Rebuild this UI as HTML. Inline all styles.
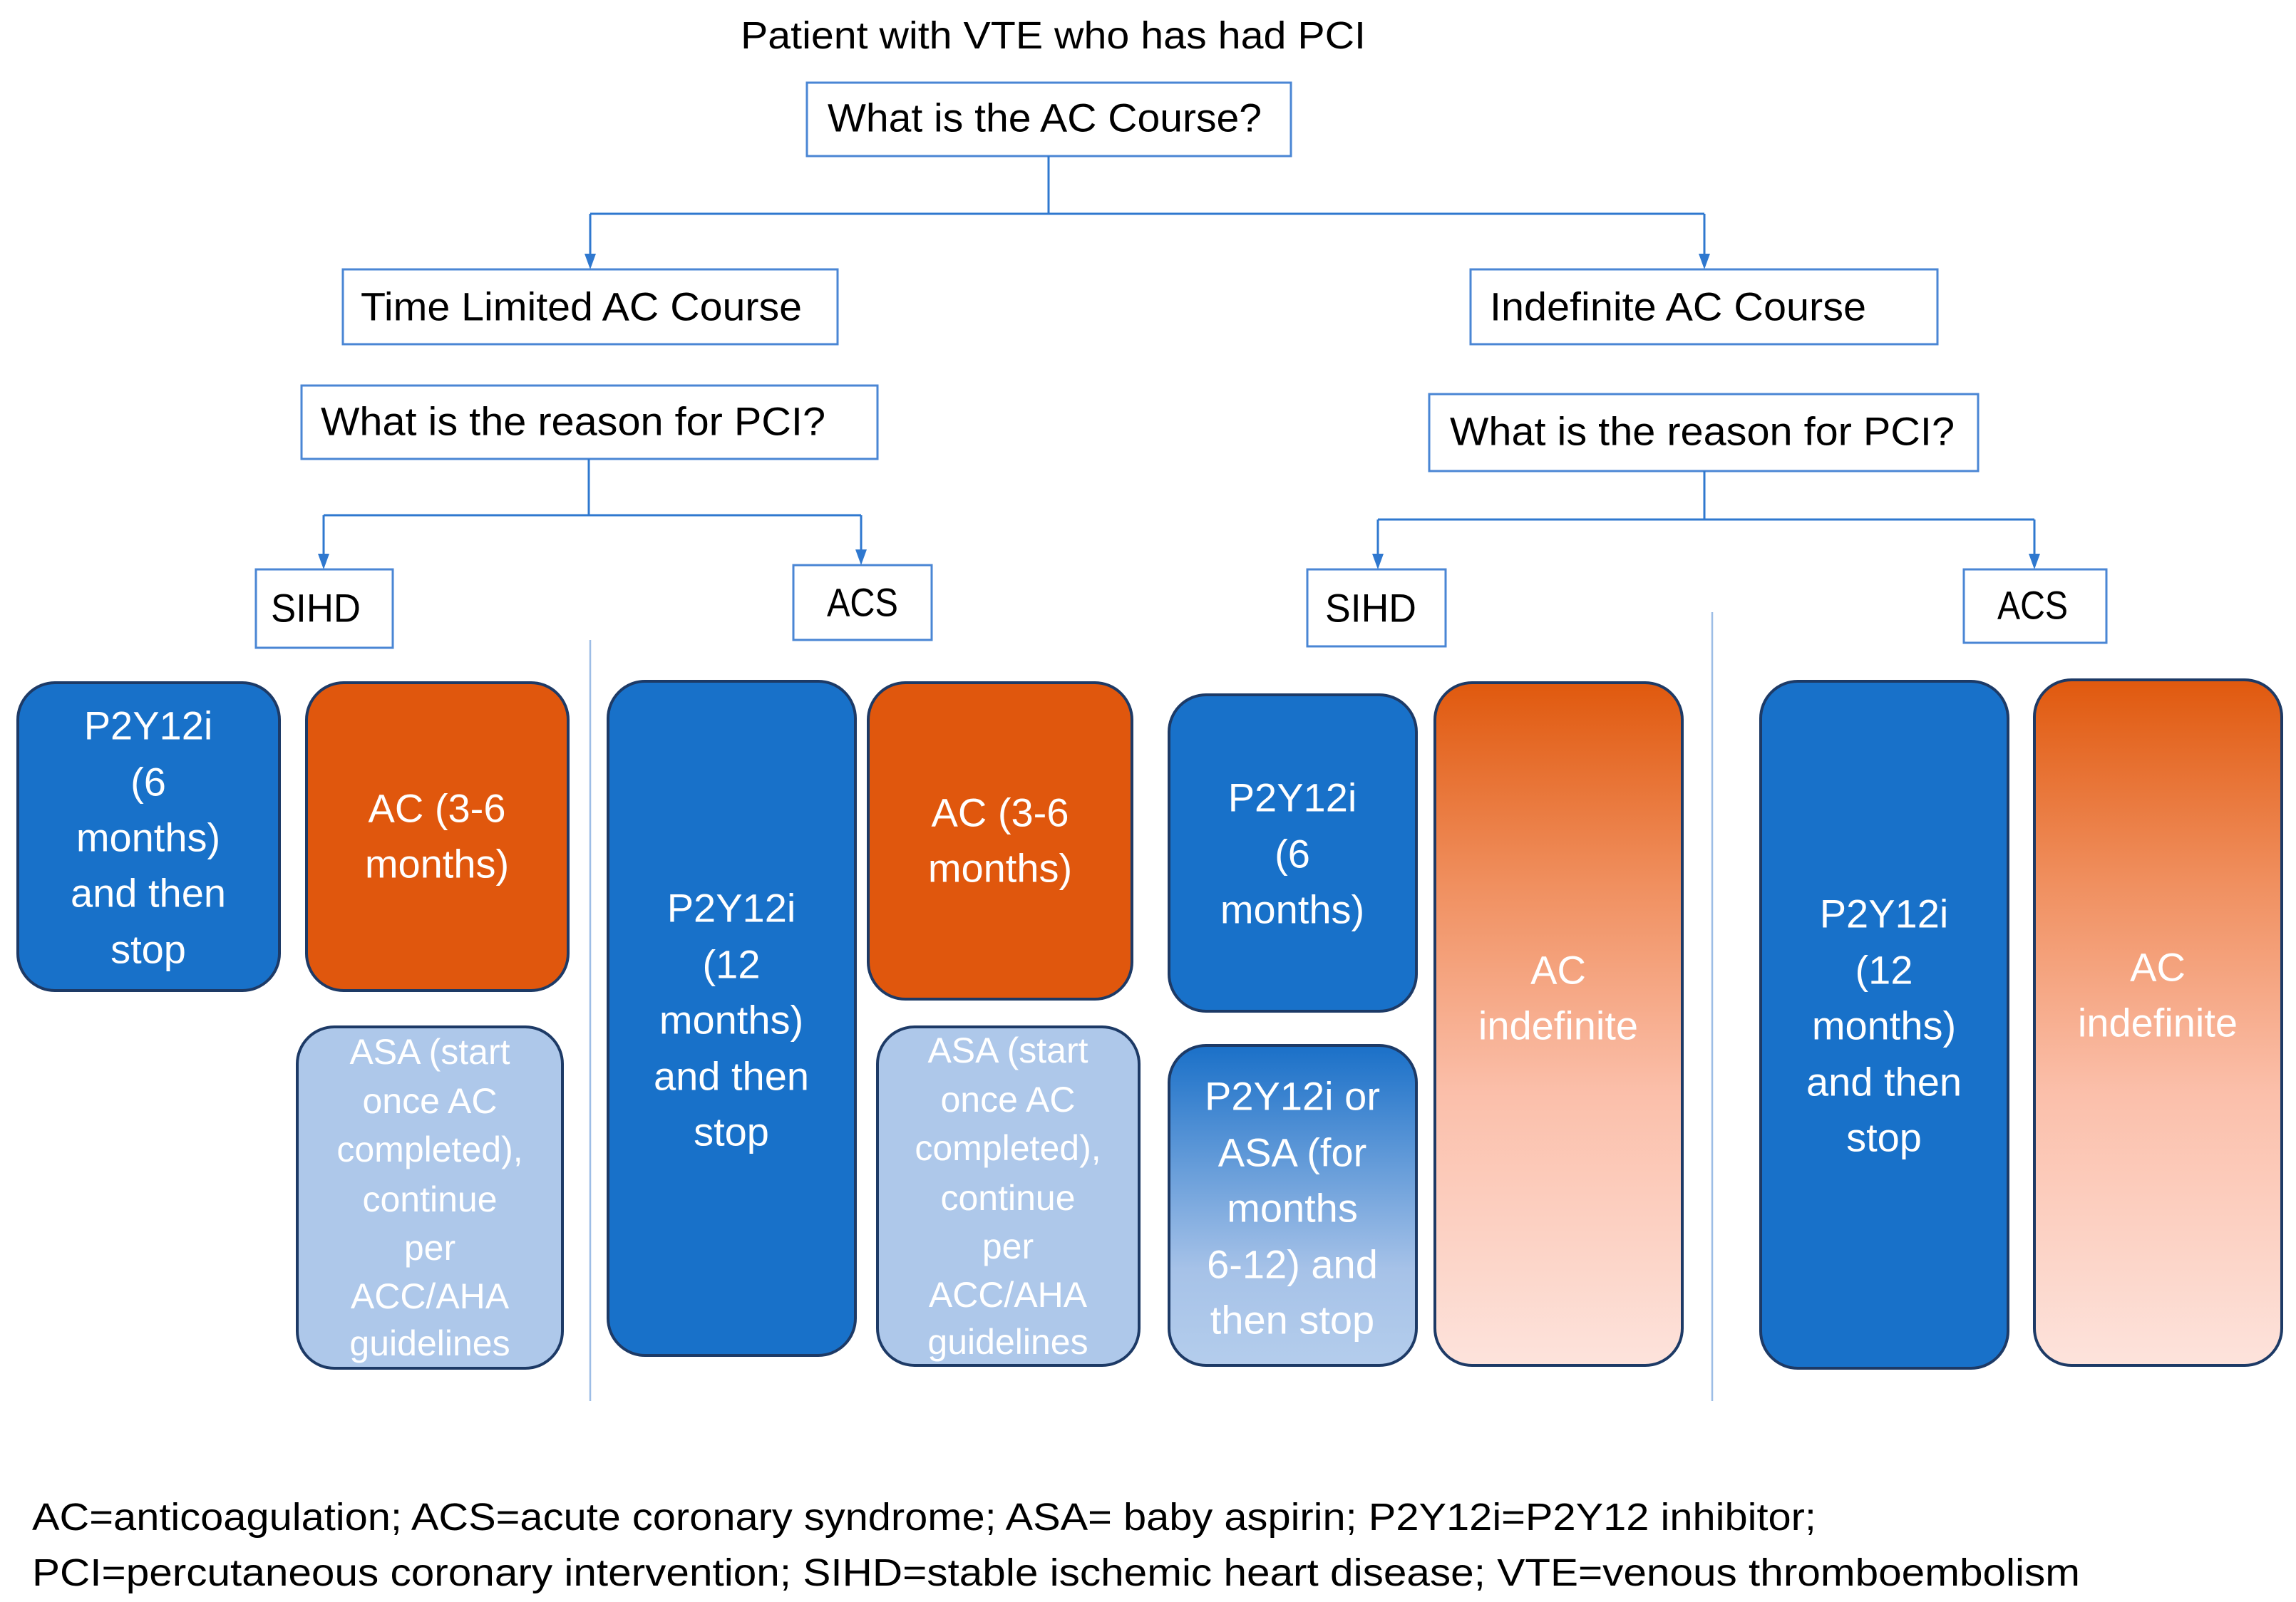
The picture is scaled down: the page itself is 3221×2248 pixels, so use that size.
<!DOCTYPE html>
<html><head><meta charset="utf-8"><style>
html,body{margin:0;padding:0;background:#fff;}
svg{display:block;}
text{font-family:"Liberation Sans",sans-serif;}
</style></head><body>
<svg width="3221" height="2248" viewBox="0 0 3221 2248" xmlns="http://www.w3.org/2000/svg">
<defs>
<linearGradient id="og" x1="0" y1="0" x2="0" y2="1">
<stop offset="0" stop-color="#e0590e"/><stop offset="0.3" stop-color="#f09060"/><stop offset="0.6" stop-color="#fbbfaa"/><stop offset="1" stop-color="#fde3dc"/>
</linearGradient>
<linearGradient id="bg" x1="0" y1="0" x2="0" y2="1">
<stop offset="0" stop-color="#1a70c8"/><stop offset="0.7" stop-color="#a6c2e8"/><stop offset="1" stop-color="#b4cdec"/>
</linearGradient>
</defs>

<g fill="#000" font-size="54">
<text x="1039" y="50" dominant-baseline="central" textLength="877" lengthAdjust="spacingAndGlyphs">Patient with VTE who has had PCI</text>
</g>

<g fill="#fff" stroke="#4a86d4" stroke-width="3">
<rect x="1132" y="116" width="679" height="103"/>
<rect x="481" y="378" width="694" height="105"/>
<rect x="2063" y="378" width="655" height="105"/>
<rect x="423" y="541" width="808" height="103"/>
<rect x="2005" y="553" width="770" height="108"/>
<rect x="359" y="799" width="192" height="110"/>
<rect x="1113" y="793" width="194" height="105"/>
<rect x="1834" y="799" width="194" height="108"/>
<rect x="2755" y="799" width="200" height="103"/>
</g>
<g fill="#000" font-size="56">
<text x="1161" y="165" dominant-baseline="central" textLength="609" lengthAdjust="spacingAndGlyphs">What is the AC Course?</text>
<text x="506" y="430" dominant-baseline="central" textLength="619" lengthAdjust="spacingAndGlyphs">Time Limited AC Course</text>
<text x="2090" y="430" dominant-baseline="central" textLength="528" lengthAdjust="spacingAndGlyphs">Indefinite AC Course</text>
<text x="450" y="591" dominant-baseline="central" textLength="708" lengthAdjust="spacingAndGlyphs">What is the reason for PCI?</text>
<text x="2034" y="605" dominant-baseline="central" textLength="708" lengthAdjust="spacingAndGlyphs">What is the reason for PCI?</text>
<text x="380" y="853" dominant-baseline="central" textLength="126" lengthAdjust="spacingAndGlyphs">SIHD</text>
<text x="1160" y="845" dominant-baseline="central" textLength="100" lengthAdjust="spacingAndGlyphs">ACS</text>
<text x="1859" y="853" dominant-baseline="central" textLength="128" lengthAdjust="spacingAndGlyphs">SIHD</text>
<text x="2802" y="849" dominant-baseline="central" textLength="99" lengthAdjust="spacingAndGlyphs">ACS</text>
</g>

<g stroke="#2f78cf" stroke-width="3" fill="none">
<path d="M1471,219 V300 M828,300 H2391"/>
<path d="M828,300 V358"/>
<path d="M2391,300 V358"/>
<path d="M826,644 V723 M454,723 H1208"/>
<path d="M454,723 V779"/>
<path d="M1208,723 V773"/>
<path d="M2391,661 V729 M1933,729 H2854"/>
<path d="M1933,729 V779"/>
<path d="M2854,729 V779"/>
</g>
<g fill="#2f78cf">
<polygon points="820,356 836,356 828,378"/>
<polygon points="2383,356 2399,356 2391,378"/>
<polygon points="446,777 462,777 454,799"/>
<polygon points="1200,771 1216,771 1208,793"/>
<polygon points="1925,777 1941,777 1933,799"/>
<polygon points="2846,777 2862,777 2854,799"/>
</g>
<g stroke="#9dbde6" stroke-width="2.5">
<path d="M828,898 V1966"/>
<path d="M2402,859 V1966"/>
</g>

<g stroke="#1d3a66" stroke-width="4">
<rect x="25" y="958" width="367" height="432" rx="52" fill="#1871c9"/>
<rect x="430" y="958" width="367" height="432" rx="52" fill="#e0570d"/>
<rect x="417" y="1441" width="372" height="479" rx="52" fill="#aec8ea"/>
<rect x="853" y="956" width="347" height="946" rx="52" fill="#1871c9"/>
<rect x="1218" y="958" width="370" height="444" rx="52" fill="#e0570d"/>
<rect x="1231" y="1441" width="367" height="475" rx="52" fill="#aec8ea"/>
<rect x="1640" y="975" width="347" height="444" rx="52" fill="#1871c9"/>
<rect x="1640" y="1467" width="347" height="449" rx="52" fill="url(#bg)"/>
<rect x="2013" y="958" width="347" height="958" rx="52" fill="url(#og)"/>
<rect x="2470" y="956" width="347" height="964" rx="52" fill="#1871c9"/>
<rect x="2854" y="954" width="347" height="962" rx="52" fill="url(#og)"/>
</g>

<g fill="#fff" font-size="56" text-anchor="middle">
<text x="208" y="1018" dominant-baseline="central">P2Y12i</text>
<text x="208" y="1097" dominant-baseline="central">(6</text>
<text x="208" y="1175" dominant-baseline="central">months)</text>
<text x="208" y="1253" dominant-baseline="central">and then</text>
<text x="208" y="1332" dominant-baseline="central">stop</text>

<text x="613" y="1134" dominant-baseline="central">AC (3-6</text>
<text x="613" y="1212" dominant-baseline="central">months)</text>

<text x="1026" y="1274" dominant-baseline="central">P2Y12i</text>
<text x="1026" y="1353" dominant-baseline="central">(12</text>
<text x="1026" y="1431" dominant-baseline="central">months)</text>
<text x="1026" y="1510" dominant-baseline="central">and then</text>
<text x="1026" y="1588" dominant-baseline="central">stop</text>

<text x="1403" y="1140" dominant-baseline="central">AC (3-6</text>
<text x="1403" y="1218" dominant-baseline="central">months)</text>

<text x="1813" y="1119" dominant-baseline="central">P2Y12i</text>
<text x="1813" y="1198" dominant-baseline="central">(6</text>
<text x="1813" y="1276" dominant-baseline="central">months)</text>

<text x="1813" y="1538" dominant-baseline="central">P2Y12i or</text>
<text x="1813" y="1617" dominant-baseline="central">ASA  (for</text>
<text x="1813" y="1695" dominant-baseline="central">months</text>
<text x="1813" y="1774" dominant-baseline="central">6-12) and</text>
<text x="1813" y="1852" dominant-baseline="central">then stop</text>

<text x="2186" y="1361" dominant-baseline="central">AC</text>
<text x="2186" y="1439" dominant-baseline="central">indefinite</text>

<text x="2643" y="1282" dominant-baseline="central">P2Y12i</text>
<text x="2643" y="1361" dominant-baseline="central">(12</text>
<text x="2643" y="1439" dominant-baseline="central">months)</text>
<text x="2643" y="1518" dominant-baseline="central">and then</text>
<text x="2643" y="1596" dominant-baseline="central">stop</text>

<text x="3027" y="1357" dominant-baseline="central">AC</text>
<text x="3027" y="1435" dominant-baseline="central">indefinite</text>
</g>

<g fill="#fff" font-size="50" text-anchor="middle">
<text x="603" y="1476" dominant-baseline="central">ASA (start</text>
<text x="603" y="1545" dominant-baseline="central">once AC</text>
<text x="603" y="1613" dominant-baseline="central">completed),</text>
<text x="603" y="1683" dominant-baseline="central">continue</text>
<text x="603" y="1751" dominant-baseline="central">per</text>
<text x="603" y="1819" dominant-baseline="central">ACC/AHA</text>
<text x="603" y="1885" dominant-baseline="central">guidelines</text>

<text x="1414" y="1474" dominant-baseline="central">ASA (start</text>
<text x="1414" y="1543" dominant-baseline="central">once AC</text>
<text x="1414" y="1611" dominant-baseline="central">completed),</text>
<text x="1414" y="1681" dominant-baseline="central">continue</text>
<text x="1414" y="1749" dominant-baseline="central">per</text>
<text x="1414" y="1817" dominant-baseline="central">ACC/AHA</text>
<text x="1414" y="1883" dominant-baseline="central">guidelines</text>
</g>

<g fill="#000" font-size="54">
<text x="45" y="2129" dominant-baseline="central" textLength="2503" lengthAdjust="spacingAndGlyphs">AC=anticoagulation; ACS=acute coronary syndrome; ASA= baby aspirin; P2Y12i=P2Y12 inhibitor;</text>
<text x="45" y="2207" dominant-baseline="central" textLength="2873" lengthAdjust="spacingAndGlyphs">PCI=percutaneous coronary intervention; SIHD=stable ischemic heart disease; VTE=venous thromboembolism</text>
</g>
</svg>
</body></html>
